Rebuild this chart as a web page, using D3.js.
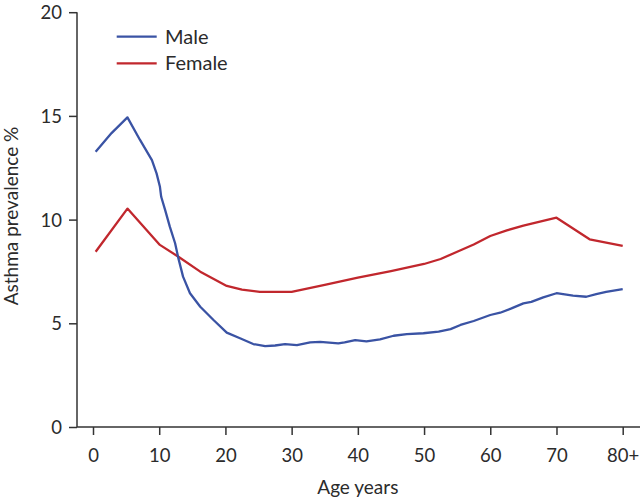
<!DOCTYPE html>
<html>
<head>
<meta charset="utf-8">
<script src="https://cdn.jsdelivr.net/npm/d3@7"></script>
<style>
  html, body { margin: 0; padding: 0; background: #fff; }
  svg { display: block; }
  text { font-family: "Lato", "Noto Sans", sans-serif; fill: #2b2b2b; }
</style>
</head>
<body>
<svg id="chart" width="640" height="502"></svg>
<script>
// ---- data ----
const maleAge = [0.4, 2.8, 5.2, 7.1, 8.9, 9.6, 10.1, 10.3, 10.9, 11.6, 12.4, 12.9, 13.6, 14.65, 16.2, 18.2, 20.2, 22.2, 24.2, 26, 27.5, 29, 30.8, 32.8, 34.3, 37.05, 38, 39.6, 41.3, 43.35, 45.4, 47.4, 49.9, 52.2, 54, 55.5, 57.5, 60, 61.5, 63.2, 65, 66.2, 68, 70, 72.5, 74.5, 76, 77.5, 80];
const maleVal = [13.27, 14.17, 14.93, 13.84, 12.87, 12.23, 11.6, 11.1, 10.46, 9.66, 8.86, 8.13, 7.25, 6.45, 5.8, 5.16, 4.55, 4.28, 4.0, 3.9, 3.93, 4.0, 3.95, 4.08, 4.1, 4.03, 4.08, 4.19, 4.13, 4.23, 4.4, 4.48, 4.52, 4.6, 4.72, 4.92, 5.11, 5.4, 5.51, 5.72, 5.96, 6.03, 6.25, 6.45, 6.33, 6.28, 6.41, 6.51, 6.65];
const femaleAge = [0.4, 5.2, 10.1, 12.9, 16.2, 20.2, 22.5, 25.2, 30, 35, 40, 45, 50, 52.5, 55, 57.5, 60, 62.5, 65, 70, 75, 80];
const femaleVal = [8.45, 10.53, 8.78, 8.21, 7.49, 6.8, 6.62, 6.52, 6.52, 6.85, 7.2, 7.52, 7.86, 8.1, 8.45, 8.8, 9.21, 9.48, 9.71, 10.09, 9.05, 8.73];
const xTicks = [0, 10, 20, 30, 40, 50, 60, 70, 80];
const xTickLabels = ["0", "10", "20", "30", "40", "50", "60", "70", "80+"];
const yTicks = [0, 5, 10, 15, 20];
const seriesNames = ["Male", "Female"];
const seriesColors = ["#3a53a4", "#c1272d"];

// ---- layout ----
const svg = d3.select("#chart");
const x = d3.scaleLinear().domain([0, 80]).range([93, 622.7]);
const y = d3.scaleLinear().domain([0, 20]).range([427, 12.2]);
const axisX0 = 77;
const axisColor = "#333";

// y axis
const gy = svg.append("g").attr("transform", `translate(${axisX0},0)`)
  .call(d3.axisLeft(y).tickValues(yTicks).tickSize(8).tickSizeOuter(0).tickFormat(d3.format("d")));
gy.select(".domain").remove();
gy.selectAll(".tick line").attr("stroke", axisColor).attr("stroke-width", 1.5);
gy.selectAll(".tick text").attr("x", -15).attr("dy", "0.35em")
  .style("font-size", "18.5px").style("font-family", "Lato, sans-serif").attr("fill", "#2b2b2b");
svg.append("line").attr("x1", axisX0).attr("x2", axisX0).attr("y1", y(20)).attr("y2", y(0))
  .attr("stroke", axisColor).attr("stroke-width", 1.5);

// x axis
const gx = svg.append("g").attr("transform", `translate(0,${y(0)})`)
  .call(d3.axisBottom(x).tickValues(xTicks).tickSize(8).tickSizeOuter(0)
    .tickFormat((d, i) => xTickLabels[i]));
gx.select(".domain").remove();
gx.selectAll(".tick line").attr("stroke", axisColor).attr("stroke-width", 1.5);
gx.selectAll(".tick text").attr("y", 34.5).attr("dy", "0")
  .style("font-size", "18.5px").style("font-family", "Lato, sans-serif").attr("fill", "#2b2b2b");
svg.append("line").attr("x1", axisX0).attr("x2", 640).attr("y1", y(0)).attr("y2", y(0))
  .attr("stroke", axisColor).attr("stroke-width", 1.5);

// axis titles
svg.append("text").attr("x", (x(0) + x(80)) / 2).attr("y", 493.5)
  .attr("text-anchor", "middle").style("font-size", "19px").text("Age years");
svg.append("text").attr("transform", `translate(17.5,216) rotate(-90)`)
  .attr("text-anchor", "middle").style("font-size", "19px").text("Asthma prevalence %");

// lines
const line = d3.line().x(d => x(d[0])).y(d => y(d[1])).curve(d3.curveLinear);
const male = maleAge.map((a, i) => [a, maleVal[i]]);
const female = femaleAge.map((a, i) => [a, femaleVal[i]]);
svg.append("path").datum(female).attr("d", line).attr("fill", "none")
  .attr("stroke", seriesColors[1]).attr("stroke-width", 2.3).attr("stroke-linejoin", "round");
svg.append("path").datum(male).attr("d", line).attr("fill", "none")
  .attr("stroke", seriesColors[0]).attr("stroke-width", 2.3).attr("stroke-linejoin", "round");

// legend
const lg = svg.append("g");
seriesNames.forEach((n, i) => {
  const ly = 36.7 + i * 26.6;
  lg.append("line").attr("x1", 116.7).attr("x2", 156.7).attr("y1", ly).attr("y2", ly)
    .attr("stroke", seriesColors[i]).attr("stroke-width", 2.3);
  lg.append("text").attr("x", 165).attr("y", ly).attr("dy", "0.35em")
    .style("font-size", "20px").text(n);
});
</script>
</body>
</html>
